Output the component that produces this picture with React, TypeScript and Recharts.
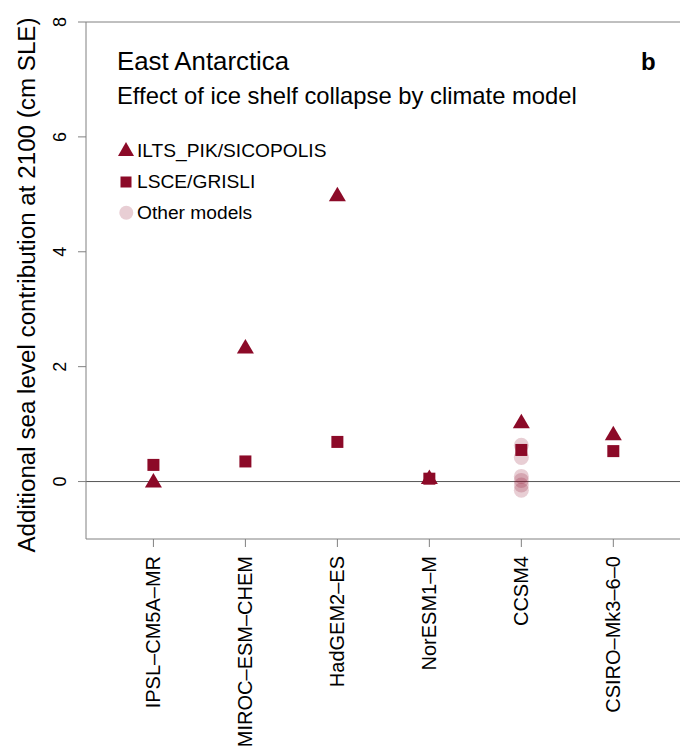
import { ScatterChart, Scatter, XAxis, YAxis, ReferenceLine } from "recharts";

const models = [
  "IPSL–CM5A–MR",
  "MIROC–ESM–CHEM",
  "HadGEM2–ES",
  "NorESM1–M",
  "CCSM4",
  "CSIRO–Mk3–6–0",
];
const pikValues = [0.02, 2.35, 5.0, 0.08, 1.05, 0.84];
const lsceValues = [0.29, 0.35, 0.69, 0.05, 0.55, 0.53];
const otherModel = "CCSM4";
const otherValues = [0.63, 0.42, 0.09, 0.02, -0.06, -0.15];
const yTicks = [0, 2, 4, 6, 8];

const FONT = '"Liberation Sans", Arial, Helvetica, sans-serif';
const RED = "#8c0a28";
const AXIS = "#808080";
const PLOT_LEFT = 86;

const pikData = pikValues.map((v, i) => ({ x: i + 1, y: v }));
const lsceData = lsceValues.map((v, i) => ({ x: i + 1, y: v }));
const otherData = otherValues.map((v) => ({ x: models.indexOf(otherModel) + 1, y: v }));

function Triangle({ cx, cy }: any) {
  return <polygon points={`${cx - 8.5},${cy + 7} ${cx + 8.5},${cy + 7} ${cx},${cy - 7.5}`} fill={RED} />;
}

function Square({ cx, cy }: any) {
  return <rect x={cx - 6} y={cy - 6} width={12} height={12} fill={RED} />;
}

function Dot({ cx, cy }: any) {
  return <circle cx={cx} cy={cy} r={7.5} fill={RED} fillOpacity={0.2} />;
}

function XTick({ x, y, payload }: any) {
  return (
    <text
      transform={`translate(${x + 7},${y + 7}) rotate(-90)`}
      textAnchor="end"
      fontSize={20}
      fontFamily={FONT}
      fill="#000"
    >
      {models[payload.value - 1]}
    </text>
  );
}

// rotated like R's las=0, baseline ~20px left of the axis line
function YTick({ y, payload }: any) {
  return (
    <text
      transform={`translate(${PLOT_LEFT - 20},${y}) rotate(-90)`}
      textAnchor="middle"
      fontSize={18}
      fontFamily={FONT}
      fill="#000"
    >
      {payload.value}
    </text>
  );
}

export default function App() {
  return (
    <div style={{ position: "relative", width: 680, height: 754, background: "#fff" }}>
      <style>{"body{margin:0}"}</style>
      <ScatterChart width={680} height={754} margin={{ top: 22, right: 0, left: 0, bottom: 0 }}>
        <XAxis
          type="number"
          dataKey="x"
          domain={[0.267, 6.725]}
          ticks={[1, 2, 3, 4, 5, 6]}
          allowDataOverflow
          height={215}
          tickSize={8}
          stroke={AXIS}
          tick={<XTick />}
          interval={0}
        />
        <YAxis
          type="number"
          dataKey="y"
          domain={[-1, 8]}
          ticks={yTicks}
          allowDataOverflow
          width={PLOT_LEFT}
          tickSize={8}
          stroke={AXIS}
          tick={<YTick />}
          interval={0}
        />
        <ReferenceLine y={8} stroke={AXIS} strokeWidth={1} />
        <ReferenceLine y={0} stroke="#555" strokeWidth={1} />
        <Scatter data={otherData} shape={<Dot />} isAnimationActive={false} />
        <Scatter data={lsceData} shape={<Square />} isAnimationActive={false} />
        <Scatter data={pikData} shape={<Triangle />} isAnimationActive={false} />
      </ScatterChart>
      <svg
        width={680}
        height={754}
        style={{ position: "absolute", left: 0, top: 0, pointerEvents: "none" }}
        fontFamily={FONT}
      >
        <text transform="translate(35,285) rotate(-90)" textAnchor="middle" fontSize={24.2} fill="#000">
          Additional sea level contribution at 2100 (cm SLE)
        </text>
        <text x={117} y={69.5} fontSize={25.8} fill="#000">
          East Antarctica
        </text>
        <text x={117} y={104} fontSize={23.8} fill="#000">
          Effect of ice shelf collapse by climate model
        </text>
        <text x={641} y={69.5} fontSize={24} fontWeight="bold" fill="#000">
          b
        </text>
        <polygon points="118,156 134,156 126,142" fill={RED} />
        <text x={137} y={156.5} fontSize={19.2} fill="#000">
          ILTS_PIK/SICOPOLIS
        </text>
        <rect x={120.5} y={176.5} width={11} height={11} fill={RED} />
        <text x={137} y={188} fontSize={19.2} fill="#000">
          LSCE/GRISLI
        </text>
        <circle cx={126.3} cy={212.7} r={7} fill={RED} fillOpacity={0.2} />
        <text x={137} y={218.5} fontSize={19.2} fill="#000">
          Other models
        </text>
      </svg>
    </div>
  );
}
